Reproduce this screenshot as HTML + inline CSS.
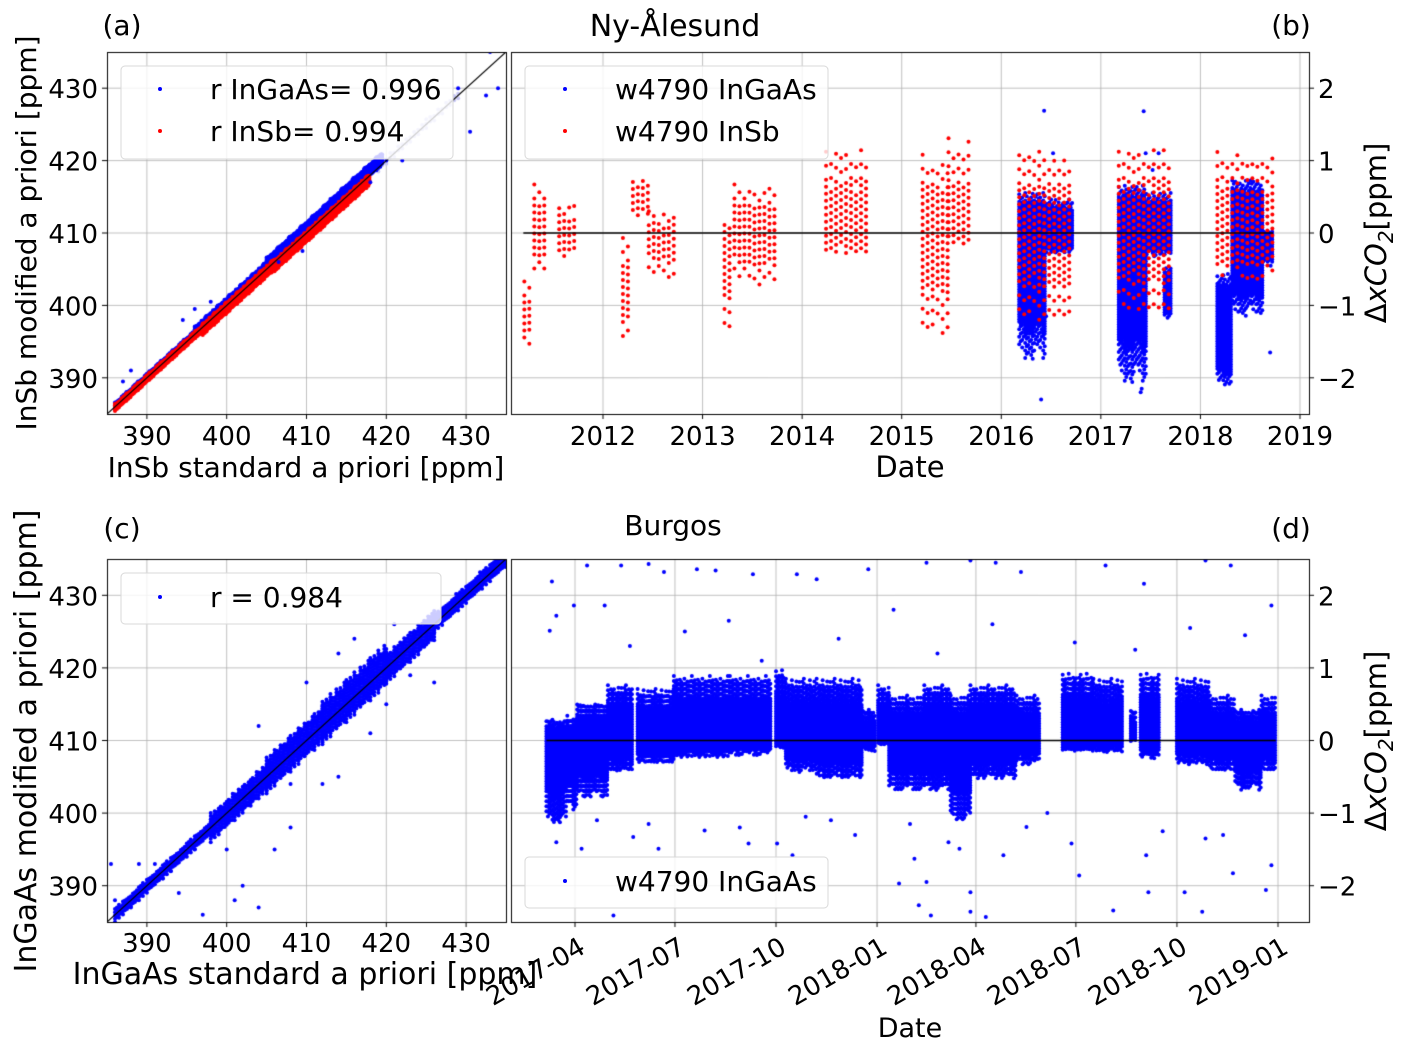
<!DOCTYPE html>
<html><head><meta charset="utf-8">
<style>
html,body{margin:0;padding:0;background:#fff;}
#wrap{position:relative;width:1403px;height:1046px;overflow:hidden;}
canvas,svg{position:absolute;left:0;top:0;}
text{font-family:"DejaVu Sans","Liberation Sans",sans-serif;fill:#000;}
</style></head>
<body>
<div id="wrap">
<canvas id="cv" width="1403" height="1046"></canvas>
<svg id="sv" width="1403" height="1046"></svg>
</div>
<script>
// ---------- DATA ----------
const aBlueSegs=[[386,396,0.1,0.5],[396,405,0.3,0.8],[405,413,0.6,1.0],[413,419.5,0.8,0.9]];
const aRedSegs=[[386,397,-0.1,0.5],[397,406,-0.3,0.8],[406,418,-0.5,0.8]];
const aLightSegs=[[419,429,0.1,0.6]];
const aBlueOutX=[387,388,396,398,394.5,422,430.5,429,432.5,434,433,420,406.5,409.5,418];
const aBlueOutY=[389.5,391,399.5,400.5,398,420,424,430,429,430,435,420,406,407.5,417];
const bRedSegs=[[2011.21,2011.31,-0.67,-1.63],[2011.31,2011.44,0.67,-0.62],[2011.56,2011.74,0.44,-0.44],
 [2012.20,2012.30,-0.07,-1.54],[2012.30,2012.46,0.80,0.11],[2012.46,2012.74,0.30,-0.71],
 [2013.22,2013.32,0.11,-1.58],[2013.32,2013.73,0.67,-0.76],[2014.24,2014.65,1.22,-0.34],
 [2015.21,2015.47,1.08,-1.49],[2015.47,2015.72,1.31,-0.25],[2016.18,2016.69,1.17,-1.31],
 [2017.18,2017.71,1.22,-1.17],[2018.17,2018.73,1.12,-0.67]];
const bBlueSegs=[[2016.18,2016.44,0.57,-1.77],[2016.44,2016.72,0.48,-0.30],
 [2017.18,2017.46,0.67,-2.09],[2017.46,2017.71,0.57,-0.34],[2017.64,2017.71,-0.44,-1.22],
 [2018.17,2018.32,-0.53,-2.13],[2018.32,2018.63,0.76,-1.17],[2018.63,2018.73,0.02,-0.48]];
const bBlueOutX=[2016.43,2016.52,2016.45,2016.40,2017.43,2017.45,2017.52,2017.58,2017.40,2017.41,2018.70,2016.36];
const bBlueOutY=[1.69,1.10,-1.15,-2.30,1.68,1.10,0.87,1.10,-2.20,-2.15,-1.65,-0.85];
const cBlueSegs=[[386,398,0,1.0],[398,405,0,2.0],[405,412,0.3,2.6],[412,420,0.5,3.0],[420,426,0,2.2],[426,435,0.2,1.3]];
const cOutX=[385.5,386,388,389,391,392,394,396,397,398,400,402,401,404,406,406,408,408,412,414,418,420,423,426,404,410,414,397,393,403,416,421];
const cOutY=[393,388,387,393,393,391,389,395,386,400,395,390,388,387,395,408,404,398,404,405,411,415,419,418,412,418,422,397,392,401,424,426];
const dSegs=[[64,83,0.30,-1.17],[83,92,0.34,-0.99],[92,120,0.53,-0.80],[120,143,0.76,-0.44],[147,180,0.71,-0.34],
 [180,231,0.89,-0.25],[231,268,0.89,-0.21],[273,282,0.99,-0.11],[282,310,0.85,-0.44],[310,352,0.85,-0.53],
 [352,364,0.44,-0.16],[366,376,0.76,-0.07],[376,408,0.62,-0.71],[408,432,0.76,-0.71],[432,450,0.62,-1.12],
 [450,492,0.76,-0.53],[492,513,0.62,-0.34],[534,562,0.94,-0.16],[562,589,0.85,-0.16],[596,601,0.44,-0.02],
 [605,622,0.94,-0.25],[638,668,0.85,-0.34],[668,691,0.62,-0.44],[691,715,0.44,-0.71],[715,728,0.62,-0.44]];
const dOutDay=[67,69,73,89,101,117,132,157,171,201,218,252,292,310,357,410,450,473,496,573,608,664,687,724,
 73,96,143,157,166,208,248,274,288,323,385,399,403,410,414,440,450,450,464,480,501,542,549,580,610,612,645,661,664,689,719,724,125,
 140,190,230,260,330,380,420,470,545,600,650,700,110,240,300,345,395,430,520,625,680];
const dOutVal=[1.51,2.19,1.72,1.86,2.41,1.86,2.41,2.43,2.32,2.36,2.34,2.29,2.29,2.22,2.36,2.45,2.48,2.45,2.32,2.41,2.16,2.48,2.41,1.86,
 -1.40,-1.49,-1.33,-1.15,-1.49,-1.24,-1.42,-1.42,-1.58,-1.10,-1.97,-1.63,-2.27,-1.95,-2.41,-1.49,-2.09,-2.36,-2.43,-1.58,-1.19,-1.42,-1.86,-2.34,-1.58,-2.09,-2.09,-2.36,-1.35,-1.83,-2.06,-1.72,-2.41,
 1.30,1.50,1.65,1.10,1.40,1.80,1.20,1.60,1.35,1.25,1.55,1.45,-1.10,-1.20,-1.05,-1.30,-1.15,-1.40,-1.00,-1.25,-1.30];
const abTicks=[390,400,410,420,430];
const dyTicks=[-2,-1,0,1,2];
const yearTicks=[2012,2013,2014,2015,2016,2017,2018,2019];
const dDateTicks=["2017-04","2017-07","2017-10","2018-01","2018-04","2018-07","2018-10","2019-01"];
const dDateDays=[90,181,273,365,455,546,638,730];

// ---------- AXES ----------
const A={x0:107,x1:506,y0:52,y1:414};
const B={x0:511,x1:1309,y0:52,y1:414};
const C={x0:107,x1:506,y0:559,y1:922};
const D={x0:511,x1:1309,y0:559,y1:922};
function lin(d0,d1,r0,r1){return v=>r0+(v-d0)*(r1-r0)/(d1-d0);}
const ax=lin(385,435,A.x0,A.x1), ay=lin(385,435,A.y1,A.y0);
const cx=lin(385,435,C.x0,C.x1), cy=lin(385,435,C.y1,C.y0);
const bx=lin(2012,2019,603,1300), by=lin(-2.5,2.5,B.y1,B.y0);
const dx=lin(90,730,575,1278), dy=lin(-2.5,2.5,D.y1,D.y0);

const cv=document.getElementById('cv'), g=cv.getContext('2d');
function grid(P,xs,ys){
  g.strokeStyle='#b0b0b0';g.lineWidth=0.8;
  xs.forEach(x=>{g.beginPath();g.moveTo(x,P.y0);g.lineTo(x,P.y1);g.stroke();});
  ys.forEach(y=>{g.beginPath();g.moveTo(P.x0,y);g.lineTo(P.x1,y);g.stroke();});
}
grid(A,abTicks.map(ax),abTicks.map(ay));
grid(C,abTicks.map(cx),abTicks.map(cy));
grid(B,yearTicks.map(bx),dyTicks.map(by));
grid(D,dDateDays.map(dx),dyTicks.map(dy));

function dot(x,y,r,col){g.fillStyle=col;g.beginPath();g.arc(x,y,r,0,6.2832);g.fill();}
function clip(P,fn){g.save();g.beginPath();g.rect(P.x0,P.y0,P.x1-P.x0,P.y1-P.y0);g.clip();fn();g.restore();}
const pat=[1.0,0.55,0.8,0.4,0.95,0.65,0.3,0.85,0.5,0.75,0.35,0.9];
function diag(segs,X,Y,col,sx,sy,r){
  segs.forEach(s=>{let i=0;for(let v=s[0];v<=s[1];v+=sx,i++){
    const f=0.6+0.4*pat[i%12];
    const lo=v+s[2]-s[3]*f, hi=v+s[2]+s[3]*f;
    for(let w=lo+(i%2)*sy/2;w<=hi;w+=sy) dot(X(v),Y(w),r,col);}});
}
function tfill(segs,X,Y,col,stepPx,stepPy,r,coreFrac,sparse,minF){
  segs.forEach(s=>{const xa=X(s[0]),xb=X(s[1]),ya=Y(s[2]),yb=Y(s[3]);let i=0;
    const mid=Y(0)>ya&&Y(0)<yb?Y(0):(ya+yb)/2;
    for(let x=xa;x<=xb;x+=stepPx,i++){
      const f1=minF+(1-minF)*pat[i%12], f2=minF+(1-minF)*pat[(i*5+3)%12];
      const top=mid+(ya-mid)*f1, bot=mid+(yb-mid)*f2;
      const ct=mid+(top-mid)*coreFrac, cb=mid+(bot-mid)*coreFrac;
      for(let y=top+(i%3)*stepPy/3;y<=bot;y+=stepPy){
        if(y>=ct&&y<=cb) dot(x,y,r,col); else if(((Math.round(y/stepPy)+i)%sparse)==0) dot(x,y,r,col);
      }}});
}
clip(A,()=>{
  diag(aLightSegs,ax,ay,'#c8c8f5',0.5,0.6,2);
  diag(aBlueSegs,ax,ay,'#0000ff',0.12,0.2,2);
  diag(aRedSegs,ax,ay,'#ff0000',0.12,0.2,2);
  aBlueOutX.forEach((v,i)=>dot(ax(v),ay(aBlueOutY[i]),2,'#0000ff'));
  g.strokeStyle='#000';g.lineWidth=1.2;g.beginPath();g.moveTo(ax(385),ay(385));g.lineTo(ax(435),ay(435));g.stroke();
});
clip(C,()=>{
  diag(cBlueSegs,cx,cy,'#0000ff',0.25,0.45,2);
  cOutX.forEach((v,i)=>dot(cx(v),cy(cOutY[i]),2,'#0000ff'));
  g.strokeStyle='#000';g.lineWidth=1.2;g.beginPath();g.moveTo(cx(385),cy(385));g.lineTo(cx(435),cy(435));g.stroke();
});
clip(B,()=>{
  tfill(bBlueSegs,bx,by,'#0000ff',1.5,2.5,2,0.8,3,0.8);
  bBlueOutX.forEach((v,i)=>dot(bx(v),by(bBlueOutY[i]),2,'#0000ff'));
  tfill(bRedSegs,bx,by,'#ff0000',5,7,2,0.6,2,0.75);
  g.strokeStyle='#000';g.lineWidth=1.3;g.beginPath();g.moveTo(bx(2011.2),by(0));g.lineTo(bx(2018.73),by(0));g.stroke();
});
clip(D,()=>{
  tfill(dSegs,dx,dy,'#0000ff',1.5,2.5,2,0.7,2,0.8);
  dOutDay.forEach((v,i)=>dot(dx(v),dy(dOutVal[i]),2,'#0000ff'));
  g.strokeStyle='#000';g.lineWidth=1.3;g.beginPath();g.moveTo(dx(64),dy(0));g.lineTo(dx(728),dy(0));g.stroke();
});
[A,B,C,D].forEach(P=>{g.strokeStyle='#000';g.lineWidth=1;g.strokeRect(P.x0+0.5,P.y0+0.5,P.x1-P.x0,P.y1-P.y0);});
function tk(x1,y1,x2,y2){g.beginPath();g.moveTo(x1,y1);g.lineTo(x2,y2);g.stroke();}
abTicks.forEach(t=>{tk(ax(t),A.y1,ax(t),A.y1+5);tk(A.x0,ay(t),A.x0-5,ay(t));tk(cx(t),C.y1,cx(t),C.y1+5);tk(C.x0,cy(t),C.x0-5,cy(t));});
yearTicks.forEach(t=>tk(bx(t),B.y1,bx(t),B.y1+5));
dDateDays.forEach(t=>tk(dx(t),D.y1,dx(t),D.y1+5));
dyTicks.forEach(t=>{tk(B.x1,by(t),B.x1+5,by(t));tk(D.x1,dy(t),D.x1+5,dy(t));});

// ---------- TEXT ----------
const sv=document.getElementById('sv'),NS='http://www.w3.org/2000/svg';
function T(x,y,s,size,anchor,name,extra){const e=document.createElementNS(NS,'text');
  e.setAttribute('x',x);e.setAttribute('y',y);e.setAttribute('font-size',size);e.setAttribute('text-anchor',anchor||'middle');
  if(extra)e.setAttribute('transform',extra);
  e.textContent=s;
  
  
  sv.appendChild(e);return e;}
function R(x,y,w,h,name){const e=document.createElementNS(NS,'rect');
  e.setAttribute('x',x);e.setAttribute('y',y);e.setAttribute('width',w);e.setAttribute('height',h);e.setAttribute('rx',4);
  e.setAttribute('fill','rgba(255,255,255,0.8)');e.setAttribute('stroke','#d8d8d8');
  
  
  sv.appendChild(e);}
function C2(x,y,col,name){const e=document.createElementNS(NS,'circle');
  e.setAttribute('cx',x);e.setAttribute('cy',y);e.setAttribute('r',2);e.setAttribute('fill',col);
  
  
  sv.appendChild(e);}
abTicks.forEach(t=>{T(ax(t),445,t,26,'middle','x-tick-a');T(A.x0-9,ay(t)+10,t,26,'end','y-tick-a');
  T(cx(t),952,t,26,'middle','x-tick-c');T(C.x0-9,cy(t)+10,t,26,'end','y-tick-c');});
yearTicks.forEach(t=>T(bx(t),445,t,26,'middle','x-tick-b'));
dyTicks.forEach(t=>{const s=t<0?'\u2212'+(-t):''+t;T(B.x1+9,by(t)+10,s,26,'start','y-tick-b');T(D.x1+9,dy(t)+10,s,26,'start','y-tick-d');});
dDateTicks.forEach((s,i)=>{const X=dx(dDateDays[i])+12,Y=D.y1+30;T(X,Y,s,26,'end','x-tick-d','rotate(-30 '+X+' '+Y+')');});
T(306,477,'InSb standard a priori [ppm]',28,'middle','x-axis-title-a');
T(36,233,'InSb modified a priori [ppm]',28,'middle','y-axis-title-a','rotate(-90 36 233)');
T(305,984,'InGaAs standard a priori [ppm]',30,'middle','x-axis-title-c');
T(36,741,'InGaAs modified a priori [ppm]',30,'middle','y-axis-title-c','rotate(-90 36 741)');
T(910,477,'Date',29,'middle','x-axis-title-b');
T(910,1037,'Date',27,'middle','x-axis-title-d');
T(675,36,'Ny-\u00c5lesund',30,'middle','title-ny-alesund');
T(673,535,'Burgos',28,'middle','title-burgos');
T(122,35,'(a)',28,'middle','panel-label-a');T(1291,35,'(b)',28,'middle','panel-label-b');
T(122,538,'(c)',28,'middle','panel-label-c');T(1291,538,'(d)',28,'middle','panel-label-d');
[[233,'y-axis-title-b'],[741,'y-axis-title-d']].forEach(p=>{
  const e=T(1386,p[0],'',29,'middle',p[1],'rotate(-90 1386 '+p[0]+')');
  e.innerHTML='\u0394<tspan font-style="italic">xCO</tspan><tspan font-style="italic" font-size="20" dy="7">2</tspan><tspan dy="-7">[ppm]</tspan>';
});
R(121,66,332,93,'legend-a');C2(160,89,'#0000ff','legend-marker-ingaas-a');C2(160,131,'#ff0000','legend-marker-insb-a');
T(210,99,'r InGaAs= 0.996',28,'start','legend-text-ingaas-a');T(210,141,'r InSb= 0.994',28,'start','legend-text-insb-a');
R(525,66,303,93,'legend-b');C2(565,89,'#0000ff','legend-marker-ingaas-b');C2(565,131,'#ff0000','legend-marker-insb-b');
T(615,99,'w4790 InGaAs',28,'start','legend-text-ingaas-b');T(615,141,'w4790 InSb',28,'start','legend-text-insb-b');
R(121,573,320,51,'legend-c');C2(160,597,'#0000ff','legend-marker-c');T(210,607,'r = 0.984',28,'start','legend-text-c');
R(525,857,303,51,'legend-d');C2(565,881,'#0000ff','legend-marker-d');T(615,891,'w4790 InGaAs',28,'start','legend-text-d');
</script>
</body></html>
